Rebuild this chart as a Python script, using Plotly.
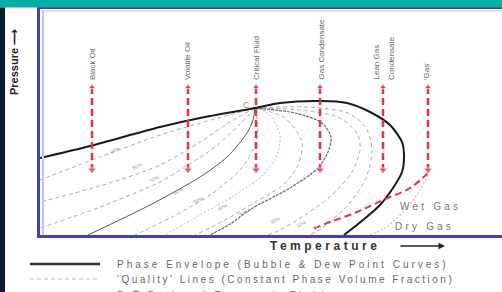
import plotly.graph_objects as go

# ---------------- data (arbitrary Temperature / Pressure units) ----------------
env_T = [0, 50, 120, 160, 215, 240, 280, 307, 330, 350, 362, 364, 362, 353, 340, 323, 304]
env_P = [77, 89, 108, 117, 127, 132, 134, 132, 123, 110, 93, 80, 63, 47, 30, 15, 0]

crit_T = 215
crit_P = 127

# iso-quality lines, all converging at the critical point
q1_T = [215, 160, 120, 60, 0]
q1_P = [127, 112, 100, 78, 55]
q2_T = [215, 190, 160, 120, 60, 0]
q2_P = [127, 113, 93, 70, 49, 33]
q3_T = [215, 200, 175, 140, 120, 60, 0]
q3_P = [127, 111, 88, 65, 53, 28, 7]
d1_T = [215, 213, 207, 187, 160, 110, 48]
d1_P = [127, 115, 102, 78, 58, 30, 0]
q4_T = [215, 218, 215, 200, 170, 130, 95]
q4_P = [127, 110, 90, 65, 40, 17, 0]
q5_T = [215, 230, 240, 237, 223, 195, 160, 125]
q5_P = [127, 120, 100, 80, 60, 40, 20, 0]
q6_T = [215, 245, 262, 258, 243, 215, 185, 155]
q6_P = [127, 117, 93, 70, 50, 33, 15, 0]
d2_T = [215, 255, 282, 291, 288, 278, 250, 211, 190, 170]
d2_P = [127, 122, 112, 98, 83, 67, 47, 26, 11, 0]
q7_T = [215, 260, 300, 318, 320, 312, 292, 265, 240, 228]
q7_P = [127, 125, 117, 100, 85, 63, 40, 20, 5, 0]
q8_T = [215, 265, 308, 326, 332, 326, 308, 282, 270]
q8_P = [127, 128, 122, 107, 85, 57, 30, 7, 0]

q_label_text = ["90%", "80%", "70%", "60%", "50%", "40%", "30%", "20%", "10%"]
q_label_T = [75, 97, 114, 138, 158, 182, 203, 235, 261]
q_label_P = [85, 69, 56, 44, 35, 28, 22, 15, 11]

# reservoir fluid types (isothermal depletion paths)
fluid_T = [52, 148, 216, 280, 343, 388]
fluid_labels = ["Black Oil", "Volatile Oil", "Critical Fluid", "Gas Condensate", "Lean Gas|Condensate", "'Gas'"]
fluid_label_T = [52, 147, 216, 281, 336, 386]
path_top_P = 148
path_bot_P = 65

wet_T = [388, 370, 343, 317, 290, 275]
wet_P = [62, 47, 35, 23, 13, 7]
dry_T = [388, 380, 365, 345, 330]
dry_P = [60, 45, 25, 7, 0]

legend_texts = ["Phase Envelope (Bubble & Dew Point Curves)",
                "'Quality' Lines (Constant Phase Volume Fraction)",
                "P-T Paths of Reservoir Fluids"]

# ---------------- figure ----------------
RED = "#e2334a"
GRAY = "#a9a9a9"
W, H = 502, 292
L, R, T, B = 40, 0, 9, 57
PW, PH = W - L - R, H - T - B


def px(xp):
    return (xp - L) / PW


def py(yp):
    return (H - B - yp) / PH


fig = go.Figure()

dashed = [(q1_T, q1_P), (q2_T, q2_P), (q3_T, q3_P), (q4_T, q4_P), (q6_T, q6_P),
          (q7_T, q7_P), (q8_T, q8_P)]
for xs, ys in dashed:
    fig.add_trace(go.Scatter(x=xs, y=ys, mode="lines", line=dict(color=GRAY, width=1, dash="4px,3px", shape="spline", smoothing=0.8), hoverinfo="skip"))
fig.add_trace(go.Scatter(x=q5_T, y=q5_P, mode="lines", line=dict(color="#eaa0aa", width=1, dash="2px,2px", shape="spline", smoothing=0.8), hoverinfo="skip"))
fig.add_trace(go.Scatter(x=d1_T, y=d1_P, mode="lines", line=dict(color="#555555", width=1, shape="spline", smoothing=0.8), hoverinfo="skip"))
fig.add_trace(go.Scatter(x=d2_T, y=d2_P, mode="lines", line=dict(color="#666666", width=1.2, dash="3px,1px", shape="spline", smoothing=0.8), hoverinfo="skip"))

# phase envelope
fig.add_trace(go.Scatter(x=env_T, y=env_P, mode="lines", line=dict(color="#1a1a1a", width=2, shape="spline", smoothing=0.8), hoverinfo="skip"))

# wet / dry gas paths
fig.add_trace(go.Scatter(x=dry_T, y=dry_P, mode="lines", line=dict(color="#f2a8b2", width=1.2, dash="2px,2px", shape="spline"), hoverinfo="skip"))
fig.add_trace(go.Scatter(x=wet_T, y=wet_P, mode="lines+markers", line=dict(color=RED, width=2, dash="7px,4px", shape="spline"),
                         marker=dict(size=[0, 0, 0, 0, 0, 4], color=RED), hoverinfo="skip"))

# vertical depletion arrows
for t in fluid_T:
    fig.add_trace(go.Scatter(x=[t, t], y=[path_top_P, path_bot_P], mode="lines+markers",
                             line=dict(color=RED, width=2.5, dash="7px,4px"),
                             marker=dict(symbol=["triangle-up", "triangle-down"], size=[7, 8], color=RED),
                             hoverinfo="skip"))

ann = []
for lab, t in zip(fluid_labels, fluid_label_T):
    parts = lab.split("|")
    for i, part in enumerate(parts):
        ann.append(dict(x=t + 15 * i, y=153, text=part, textangle=-90, showarrow=False, xanchor="center", yanchor="bottom",
                        font=dict(family="Liberation Sans", size=8, color="#666")))

ann.append(dict(x=crit_T - 9, y=crit_P + 3, text="C", showarrow=False, font=dict(family="Liberation Sans", size=9, color="#d07080")))

for s, t, p in zip(q_label_text, q_label_T, q_label_P):
    ann.append(dict(x=t, y=p, text=s, showarrow=False, textangle=-28, font=dict(family="Liberation Sans", size=5, color="#999")))

ann.append(dict(x=358, y=29, text="Wet Gas", showarrow=False, xanchor="left", align="left",
                font=dict(family="Liberation Sans", size=10, color="#777")))
ann.append(dict(x=353, y=9, text="Dry Gas", showarrow=False, xanchor="left", align="left",
                font=dict(family="Liberation Sans", size=10, color="#777")))

# axis titles
ann.append(dict(xref="paper", yref="paper", x=px(14), y=py(97), text="Pressure \u27f6", textangle=-90, showarrow=False,
                xanchor="center", yanchor="bottom", font=dict(family="Liberation Sans", size=11, color="#222", weight="bold")))
ann.append(dict(xref="paper", yref="paper", x=px(268), y=py(246), text="Temperature", showarrow=False, align="left",
                xanchor="left", yanchor="middle", font=dict(family="Liberation Sans", size=12, color="#333", weight="bold")))
ann.append(dict(xref="paper", yref="paper", x=px(445), y=py(246), ax=-46, ay=0, text="", showarrow=True,
                arrowhead=2, arrowsize=1, arrowwidth=1.3, arrowcolor="#222"))

# legend
leg_y = [264, 279, 295]
for txt, yy in zip(legend_texts, leg_y):
    ann.append(dict(xref="paper", yref="paper", x=px(115), y=py(yy), text=txt, showarrow=False, align="left",
                    xanchor="left", yanchor="middle", font=dict(family="Liberation Sans", size=10, color="#666")))

shapes = [
    # teal banner and navy strip
    dict(type="rect", xref="paper", yref="paper", x0=px(0), x1=px(W), y0=py(7.5), y1=py(0), fillcolor="#00b0a6", line_width=0, layer="above"),
    dict(type="rect", xref="paper", yref="paper", x0=px(0), x1=px(5), y0=py(H), y1=py(7.5), fillcolor="#0b1a33", line_width=0, layer="above"),
    # frame inner lavender edges
    dict(type="line", xref="paper", yref="paper", x0=px(43), x1=px(43), y0=py(235), y1=py(10), line=dict(color="#c4c4ea", width=2)),
    dict(type="line", xref="paper", yref="paper", x0=px(41), x1=px(W), y0=py(11), y1=py(11), line=dict(color="#d8d8f0", width=1.5)),
    # legend lines
    dict(type="line", xref="paper", yref="paper", x0=px(30), x1=px(100), y0=py(264), y1=py(264), line=dict(color="#333", width=2.5)),
    dict(type="line", xref="paper", yref="paper", x0=px(30), x1=px(100), y0=py(279), y1=py(279), line=dict(color="#bbb", width=1, dash="4px,3px")),
    dict(type="line", xref="paper", yref="paper", x0=px(30), x1=px(100), y0=py(295), y1=py(295), line=dict(color=RED, width=2, dash="7px,4px")),
]

fig.update_layout(
    width=W, height=H, margin=dict(l=L, r=R, t=T, b=B),
    paper_bgcolor="white", plot_bgcolor="white", showlegend=False,
    annotations=ann, shapes=shapes,
    xaxis=dict(range=[0, PW], showgrid=False, zeroline=False, showticklabels=False, ticks="",
               showline=True, linecolor="#4343a3", linewidth=2.5, mirror=True, fixedrange=True),
    yaxis=dict(range=[0, PH], showgrid=False, zeroline=False, showticklabels=False, ticks="",
               showline=True, linecolor="#4343a3", linewidth=3, fixedrange=True),
)

post = """
document.body.style.margin = '0';
document.body.style.padding = '0';
document.body.style.overflow = 'hidden';
var gd = document.getElementById('{plot_id}');
var sp = {'Temperature': 3.5, 'Wet Gas': 3.2, 'Dry Gas': 3.2,
  'Phase Envelope (Bubble & Dew Point Curves)': 3.0,
  "'Quality' Lines (Constant Phase Volume Fraction)": 2.5,
  'P-T Paths of Reservoir Fluids': 3.0};
gd.querySelectorAll('text.annotation-text').forEach(function(t){
  var k = t.textContent; if (sp[k] !== undefined) { t.style.letterSpacing = sp[k] + 'px'; }
});
"""

fig.write_html("out.html", config={"displayModeBar": False, "staticPlot": True}, post_script=post)
